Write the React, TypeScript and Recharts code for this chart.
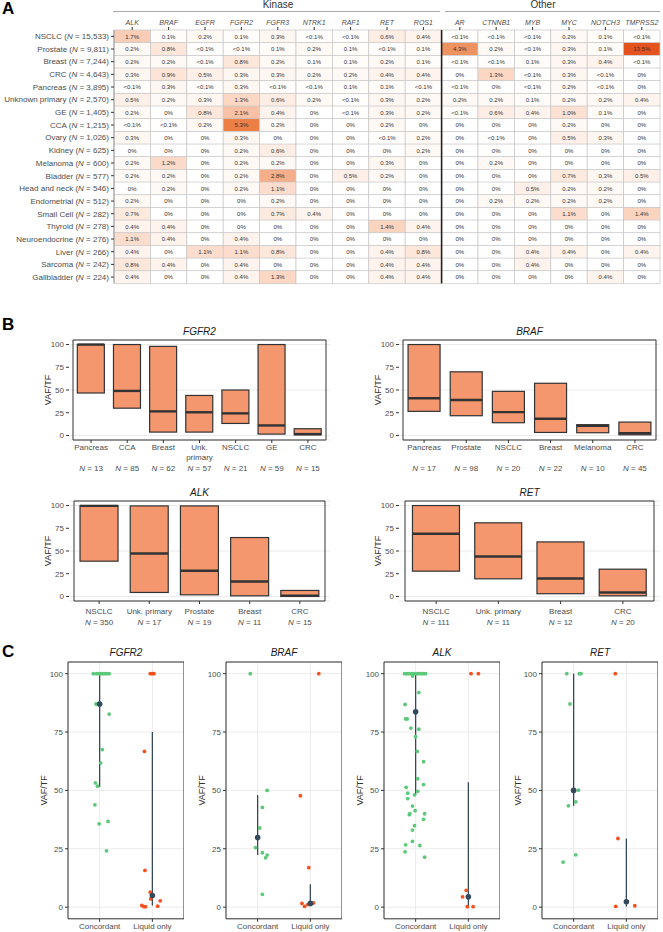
import React from "react";
import {
  Bar,
  BarChart,
  CartesianGrid,
  ErrorBar,
  Label,
  ReferenceArea,
  ReferenceLine,
  Scatter,
  ScatterChart,
  XAxis,
  YAxis,
} from "recharts";

const FONT = "'Liberation Sans', Arial, sans-serif";
const INK = "#333333";
const AXIS_TEXT = "#4D4D4D";

// ---------- A: fusion frequency table ----------
const genes = ["ALK", "BRAF", "EGFR", "FGFR2", "FGFR3", "NTRK1", "RAF1", "RET", "ROS1", "AR", "CTNNB1", "MYB", "MYC", "NOTCH3", "TMPRSS2"];
const cancers = ["NSCLC", "Prostate", "Breast", "CRC", "Pancreas", "Unknown primary", "GE", "CCA", "Ovary", "Kidney", "Melanoma", "Bladder", "Head and neck", "Endometrial", "Small Cell", "Thyroid", "Neuroendocrine", "Liver", "Sarcoma", "Gallbladder"];
const cancerN = ["15,533", "9,811", "7,244", "4,643", "3,895", "2,570", "1,405", "1,215", "1,026", "625", "600", "577", "546", "512", "282", "278", "276", "266", "242", "224"];
const freq = [
  ["1.7", "0.1", "0.2", "0.1", "0.3", "<0.1", "<0.1", "0.6", "0.4", "<0.1", "<0.1", "<0.1", "0.2", "0.1", "<0.1"],
  ["0.2", "0.8", "<0.1", "<0.1", "0.1", "0.2", "0.1", "<0.1", "0.1", "4.3", "0.2", "<0.1", "0.3", "0.1", "13.5"],
  ["0.2", "0.2", "<0.1", "0.8", "0.2", "0.1", "0.1", "0.2", "0.1", "<0.1", "<0.1", "0.1", "0.3", "0.4", "<0.1"],
  ["0.3", "0.9", "0.5", "0.3", "0.3", "0.2", "0.2", "0.4", "0.4", "0", "1.3", "<0.1", "0.3", "<0.1", "0"],
  ["<0.1", "0.3", "<0.1", "0.3", "<0.1", "<0.1", "0.1", "0.1", "<0.1", "<0.1", "0", "<0.1", "0.2", "<0.1", "0"],
  ["0.5", "0.2", "0.3", "1.3", "0.6", "0.2", "<0.1", "0.3", "0.2", "0.2", "0.2", "0.1", "0.2", "0.2", "0.4"],
  ["0.2", "0", "0.8", "2.1", "0.4", "0", "<0.1", "0.3", "0.2", "<0.1", "0.6", "0.4", "1.0", "0.1", "0"],
  ["<0.1", "<0.1", "0.2", "5.3", "0.2", "0", "0", "0.2", "0", "0", "0", "0", "0.2", "0", "0"],
  ["0.3", "0", "0", "0.3", "0", "0", "0", "<0.1", "0.2", "0", "<0.1", "0", "0.5", "0.3", "0"],
  ["0", "0", "0", "0.2", "0.6", "0", "0", "0", "0.2", "0", "0", "0", "0", "0", "0"],
  ["0.2", "1.2", "0", "0.2", "0.2", "0", "0", "0.3", "0", "0", "0.2", "0", "0", "0", "0"],
  ["0.2", "0.2", "0", "0.2", "2.8", "0", "0.5", "0.2", "0", "0", "0", "0", "0.7", "0.3", "0.5"],
  ["0", "0.2", "0", "0.2", "1.1", "0", "0", "0", "0", "0", "0", "0.5", "0.2", "0.2", "0"],
  ["0.2", "0", "0", "0", "0.2", "0", "0", "0", "0", "0", "0.2", "0.2", "0.2", "0.2", "0"],
  ["0.7", "0", "0", "0", "0.7", "0.4", "0", "0", "0", "0", "0", "0", "1.1", "0", "1.4"],
  ["0.4", "0.4", "0", "0", "0", "0", "0", "1.4", "0.4", "0", "0", "0", "0", "0", "0"],
  ["1.1", "0.4", "0", "0.4", "0", "0", "0", "0", "0", "0", "0", "0", "0", "0", "0"],
  ["0.4", "0", "1.1", "1.1", "0.8", "0", "0", "0.4", "0.8", "0", "0", "0.4", "0.4", "0", "0.4"],
  ["0.8", "0.4", "0", "0.4", "0", "0", "0", "0.4", "0.4", "0", "0", "0.4", "0", "0", "0"],
  ["0.4", "0", "0", "0.4", "1.3", "0", "0", "0.4", "0.4", "0", "0", "0", "0", "0.4", "0"],
];

// ---------- B: VAF/TF ranges by tumour type ----------
const fgfr2Cats = ["Pancreas", "CCA", "Breast", "Unk.\nprimary", "NSCLC", "GE", "CRC"];
const fgfr2N = [13, 85, 62, 57, 21, 59, 15];
const fgfr2Low = [46.7, 30, 3.7, 3.7, 13.2, 1.5, 0.7];
const fgfr2High = [100, 100, 98, 44, 50, 100, 7.4];
const fgfr2Med = [100, 49, 26.5, 25.5, 24.3, 11, 1.5];

const brafCats = ["Pancreas", "Prostate", "NSCLC", "Breast", "Melanoma", "CRC"];
const brafN = [17, 98, 20, 22, 10, 45];
const brafLow = [26.5, 21.7, 14, 3.3, 3, 0.7];
const brafHigh = [100, 70, 48.5, 57.4, 11.8, 14.7];
const brafMed = [41, 39, 25.7, 18.4, 10.7, 2.6];

const alkCats = ["NSCLC", "Unk. primary", "Prostate", "Breast", "CRC"];
const alkN = [350, 17, 19, 11, 15];
const alkLow = [38.8, 4.4, 1.8, 0.7, 0];
const alkHigh = [100, 99.6, 99.6, 64.8, 6.6];
const alkMed = [99.6, 47.3, 28.2, 16.5, 0.7];

const retCats = ["NSCLC", "Unk. primary", "Breast", "CRC"];
const retN = [111, 11, 12, 20];
const retLow = [27.8, 19.4, 3, 0.7];
const retHigh = [100, 81, 60, 30];
const retMed = [69, 44, 19.8, 4.4];

// ---------- C: concordant vs liquid only (x = jitter offset from group centre) ----------
const fgfr2ConcX = [-0.12, -0.06, -0.02, 0.02, 0.06, 0.1, 0.14, 0.18, -0.07, -0.03, 0.18, 0.05, 0.02, -0.08, -0.04, -0.09, -0.01, 0.16, 0.13];
const fgfr2ConcY = [100, 100, 100, 100, 100, 100, 100, 100, 87, 87, 82.7, 67.5, 61.7, 53.2, 51.8, 43.8, 35.7, 36.7, 24.1];
const fgfr2LiqX = [-0.04, 0, 0.03, -0.15, -0.14, -0.04, -0.03, 0.15, -0.2, -0.16, -0.13, 0.1];
const fgfr2LiqY = [100, 100, 100, 66.7, 15.7, 6.4, 3.5, 2.7, 0.7, 0.2, 0.2, 0.4];
const fgfr2DotMed = [87, 5];
const fgfr2DotLo = [51.5, 0.7];
const fgfr2DotHi = [100, 75];

const brafConcX = [-0.14, 0.18, 0.09, 0.04, -0.04, 0.09, 0.18, 0.15, 0.09];
const brafConcY = [100, 50, 42.7, 33.9, 25.5, 23.3, 22.3, 21.1, 5.5];
const brafLiqX = [0.16, -0.19, -0.03, -0.16, -0.11, -0.05, 0.03, 0.06];
const brafLiqY = [100, 47.7, 16.9, 1.6, 0.3, 1.1, 1.6, 1.8];
const brafDotMed = [29.8, 1.6];
const brafDotLo = [22.3, 0.5];
const brafDotHi = [48, 9.8];

const alkConcX = [-0.21, -0.17, -0.13, -0.08, -0.04, -0.01, 0.03, 0.07, 0.11, 0.15, 0.19, -0.06, 0.06, -0.2, -0.19, -0.16, -0.09, 0.06, 0, 0.03, 0.15, 0.04, -0.18, 0.15, -0.15, 0.04, -0.02, -0.15, -0.06, -0.12, -0.11, -0.01, 0.17, 0.15, -0.02, -0.06, -0.06, -0.19, 0.08, -0.2, 0.17];
const alkConcY = [100, 100, 100, 100, 100, 100, 100, 100, 100, 100, 100, 99, 91.9, 86.8, 80.6, 80.6, 76.7, 76.2, 73, 66.7, 62.3, 55, 51.3, 52.5, 48.8, 49.6, 48.1, 46.5, 43.3, 39.6, 40, 41.3, 40, 37.6, 34.9, 33, 28.2, 26.7, 26.4, 23.7, 21.4];
const alkLiqX = [0.05, 0.19, -0.04, -0.11, -0.02, 0.09];
const alkLiqY = [100, 100, 7.2, 4.4, 0.2, 0.2];
const alkDotMed = [83.7, 4.4];
const alkDotLo = [48, 0];
const alkDotHi = [100, 53.5];

const retConcX = [-0.13, 0.11, 0.14, -0.07, 0.09, 0.04, -0.1, 0.04, -0.2];
const retConcY = [100, 100, 100, 87, 50.1, 45.1, 43.4, 22.4, 19.3];
const retLiqX = [-0.21, -0.16, -0.2, 0.16];
const retLiqY = [100, 29.4, 0.3, 0.6];
const retDotMed = [50, 2.3];
const retDotLo = [43.4, 0.3];
const retDotHi = [100, 29.4];

// white -> orange-red ramp used for the table cells
function heatColor(f: string) {
  const v = f.startsWith("<") ? 0.05 : parseFloat(f);
  const stops: [number, number[]][] = [
    [0, [255, 255, 255]],
    [0.5, [254, 240, 232]],
    [1.3, [251, 215, 196]],
    [2.8, [245, 174, 138]],
    [5.3, [235, 127, 69]],
    [13.5, [228, 82, 30]],
  ];
  for (let i = 1; i < stops.length; i++) {
    if (v <= stops[i][0]) {
      const [a, ca] = stops[i - 1];
      const [b, cb] = stops[i];
      const t = (v - a) / (b - a);
      return `rgb(${ca.map((c, k) => Math.round(c + (cb[k] - c) * t)).join(",")})`;
    }
  }
  return "rgb(228,82,30)";
}

const heatRows = cancers.map((c, i) => {
  const row: any = { cancer: c, n: cancerN[i], f: freq[i] };
  genes.forEach((g) => (row[g] = 1));
  return row;
});

const heatCell = (gi: number) => (p: any) => {
  const f = p.payload.f[gi];
  return (
    <g>
      <rect x={p.x} y={p.y} width={p.width} height={p.height} fill={heatColor(f)} stroke="#c6c6c6" strokeWidth={0.7} />
      <text x={p.x + p.width / 2} y={p.y + p.height / 2} dy="0.35em" textAnchor="middle" fontSize={6} fill={INK}>
        {f}%
      </text>
    </g>
  );
};

function RowTick(p: any) {
  const i = cancers.indexOf(p.payload.value);
  return (
    <text x={p.x} y={p.y} dy="0.35em" textAnchor="end" fontSize={8} fill={AXIS_TEXT}>
      {p.payload.value} (<tspan fontStyle="italic">N</tspan> = {cancerN[i]})
    </text>
  );
}

function FusionTable() {
  return (
    <div style={{ position: "absolute", left: 0, top: 0 }}>
      <BarChart width={663} height={290} layout="vertical" data={heatRows} barCategoryGap={0} margin={{ top: 0, right: 3, bottom: 6.6, left: 0 }}>
        <XAxis
          type="number"
          orientation="top"
          domain={[0, 15]}
          ticks={genes.map((_, i) => i + 0.5)}
          interval={0}
          height={30}
          tickSize={3}
          axisLine={false}
          tickLine={{ stroke: INK }}
          tick={(p: any) => (
            <text x={p.x} y={p.y} textAnchor="middle" fontSize={7} fontStyle="italic" fill={AXIS_TEXT}>
              {genes[Math.floor(p.payload.value)]}
            </text>
          )}
        />
        <YAxis type="category" dataKey="cancer" width={114} tickSize={3} interval={0} axisLine={{ stroke: "#999" }} tickLine={{ stroke: INK }} tick={<RowTick />} />
        {genes.map((g, gi) => (
          <Bar key={g} dataKey={g} stackId="t" isAnimationActive={false} shape={heatCell(gi)} />
        ))}
        <ReferenceLine x={9} stroke="#222" strokeWidth={1.6} />
      </BarChart>
    </div>
  );
}

// ---------- shared bits ----------
const yLabel = (dist: number) => (p: any) => {
  const vb = p.viewBox;
  const x = vb.x + vb.width - dist;
  const y = vb.y + vb.height / 2;
  return (
    <text transform={`translate(${x},${y}) rotate(-90)`} textAnchor="middle" dy="0.35em" fontSize={9} fill={INK}>
      VAF/TF
    </text>
  );
};

function Title({ text, cx, cy }: { text: string; cx: number; cy: number }) {
  return (
    <div style={{ position: "absolute", left: cx - 60, top: cy - 6, width: 120, textAlign: "center", fontSize: 10, lineHeight: "12px", fontStyle: "italic", color: "#1a1a1a" }}>
      {text}
    </div>
  );
}

// ---------- B ----------
const RangeBox = (p: any) => {
  const { x, y, width, height, payload } = p;
  const top = Math.min(y, y + height);
  const h = Math.abs(height);
  const span = payload.high - payload.low;
  const my = top + (span > 0 ? (h * (payload.high - payload.med)) / span : 0);
  return (
    <g>
      <rect x={x} y={top} width={width} height={h} fill="#F4966E" stroke={INK} strokeWidth={1.2} />
      <line x1={x} x2={x + width} y1={my} y2={my} stroke={INK} strokeWidth={2.4} />
    </g>
  );
};

function RangePanel(props: {
  title: string;
  cats: string[];
  n: number[];
  low: number[];
  high: number[];
  med: number[];
  left: number;
  top: number;
  nBelow: boolean;
}) {
  const { title, cats, n, low, high, med, left, top, nBelow } = props;
  const rows = cats.map((c, i) => ({ cat: c, n: n[i], low: low[i], high: high[i], med: med[i] }));
  const width = 331;
  const plotW = width - 69 - 1;
  const pad = Math.round((0.1 * plotW) / (cats.length + 0.2));
  const tick = (p: any) => {
    const r = rows.find((d) => d.cat === p.payload.value)!;
    const lines = r.cat.split("\n");
    return (
      <g>
        {lines.map((l, i) => (
          <text key={i} x={p.x} y={p.y + (nBelow ? 5 : 8) + i * 10} textAnchor="middle" fontSize={8} fill={AXIS_TEXT}>
            {l}
          </text>
        ))}
        <text x={p.x} y={p.y + (nBelow ? 26 : 18.5)} textAnchor="middle" fontSize={8} fill={AXIS_TEXT}>
          <tspan fontStyle="italic">N</tspan> = {r.n}
        </text>
      </g>
    );
  };
  return (
    <div style={{ position: "absolute", left, top }}>
      <BarChart width={width} height={160} data={rows} barCategoryGap="12%" margin={{ top: 15, right: 1, bottom: 5, left: 0 }}>
        <CartesianGrid vertical={false} stroke="#EBEBEB" />
        <XAxis dataKey="cat" interval={0} height={40} tickSize={3} padding={{ left: pad, right: pad }} axisLine={false} tickLine={{ stroke: INK }} tick={tick} />
        <YAxis type="number" domain={[-5, 105]} ticks={[0, 25, 50, 75, 100]} width={69} tickSize={3} axisLine={false} tickLine={{ stroke: INK }} tick={{ fontSize: 8, fill: AXIS_TEXT }}>
          <Label content={yLabel(21)} />
        </YAxis>
        <Bar dataKey={(d: any) => [d.low, d.high]} isAnimationActive={false} shape={RangeBox} />
        <ReferenceArea y1={-5} y2={105} fill="none" stroke={INK} strokeWidth={1} />
      </BarChart>
      <Title text={title} cx={69 + plotW / 2} cy={7} />
    </div>
  );
}

// ---------- C ----------
function DotPanel(props: {
  title: string;
  left: number;
  concX: number[];
  concY: number[];
  liqX: number[];
  liqY: number[];
  med: number[];
  lo: number[];
  hi: number[];
}) {
  const { title, left, concX, concY, liqX, liqY, med, lo, hi } = props;
  const conc = concX.map((x, i) => ({ x: 1 + x, y: concY[i] }));
  const liq = liqX.map((x, i) => ({ x: 2 + x, y: liqY[i] }));
  const meds = med.map((m, i) => ({ x: i + 1, y: m, err: [m - lo[i], hi[i] - m] }));
  return (
    <div style={{ position: "absolute", left, top: 646.5 }}>
      <ScatterChart width={184} height={285.5} margin={{ top: 15, right: 0, bottom: 0, left: 0 }}>
        <CartesianGrid stroke="#EBEBEB" />
        <XAxis
          type="number"
          dataKey="x"
          domain={[0.4, 2.6]}
          ticks={[1, 2]}
          interval={0}
          height={13.7}
          tickSize={3}
          axisLine={false}
          tickLine={{ stroke: INK }}
          tick={{ fontSize: 8, fill: AXIS_TEXT }}
          tickFormatter={(v: number) => (v === 1 ? "Concordant" : "Liquid only")}
        />
        <YAxis type="number" dataKey="y" domain={[-5, 105]} ticks={[0, 25, 50, 75, 100]} width={68} tickSize={3} axisLine={false} tickLine={{ stroke: INK }} tick={{ fontSize: 8, fill: AXIS_TEXT }}>
          <Label content={yLabel(24)} />
        </YAxis>
        <Scatter data={conc} isAnimationActive={false} shape={(p: any) => <circle cx={p.cx} cy={p.cy} r={1.9} fill="#5CC97A" />} />
        <Scatter data={liq} isAnimationActive={false} shape={(p: any) => <circle cx={p.cx} cy={p.cy} r={1.9} fill="#F4511E" />} />
        <Scatter data={meds} isAnimationActive={false} shape={(p: any) => <circle cx={p.cx} cy={p.cy} r={2.8} fill="#34495E" />}>
          <ErrorBar dataKey="err" direction="y" width={0} stroke="#34495E" strokeWidth={1.3} />
        </Scatter>
        <ReferenceArea x1={0.4} x2={2.6} y1={-5} y2={105} fill="none" stroke={INK} strokeWidth={1} />
      </ScatterChart>
      <Title text={title} cx={68 + 58} cy={6.5} />
    </div>
  );
}

function Letter({ text, left, top }: { text: string; left: number; top: number }) {
  return <div style={{ position: "absolute", left, top, fontSize: 17, fontWeight: "bold", lineHeight: "17px", color: "#000" }}>{text}</div>;
}

export default function App() {
  return (
    <div style={{ position: "absolute", left: 0, top: 0, width: 663, height: 932, background: "#fff", fontFamily: FONT, color: INK, overflow: "hidden" }}>
      <FusionTable />
      <Letter text="A" left={2} top={0} />
      <div style={{ position: "absolute", left: 228, top: -1, width: 100, textAlign: "center", fontSize: 10, lineHeight: "12px" }}>Kinase</div>
      <div style={{ position: "absolute", left: 113, top: 11, width: 327, height: 1, background: "#aaa" }} />
      <div style={{ position: "absolute", left: 493, top: -1, width: 100, textAlign: "center", fontSize: 10, lineHeight: "12px" }}>Other</div>
      <div style={{ position: "absolute", left: 445, top: 11, width: 215, height: 1, background: "#aaa" }} />

      <Letter text="B" left={2} top={316} />
      <RangePanel title="FGFR2" cats={fgfr2Cats} n={fgfr2N} low={fgfr2Low} high={fgfr2High} med={fgfr2Med} left={0} top={325} nBelow />
      <RangePanel title="BRAF" cats={brafCats} n={brafN} low={brafLow} high={brafHigh} med={brafMed} left={330} top={325} nBelow />
      <RangePanel title="ALK" cats={alkCats} n={alkN} low={alkLow} high={alkHigh} med={alkMed} left={0} top={486} nBelow={false} />
      <RangePanel title="RET" cats={retCats} n={retN} low={retLow} high={retHigh} med={retMed} left={330} top={486} nBelow={false} />

      <Letter text="C" left={2} top={643} />
      <DotPanel title="FGFR2" left={0} concX={fgfr2ConcX} concY={fgfr2ConcY} liqX={fgfr2LiqX} liqY={fgfr2LiqY} med={fgfr2DotMed} lo={fgfr2DotLo} hi={fgfr2DotHi} />
      <DotPanel title="BRAF" left={158} concX={brafConcX} concY={brafConcY} liqX={brafLiqX} liqY={brafLiqY} med={brafDotMed} lo={brafDotLo} hi={brafDotHi} />
      <DotPanel title="ALK" left={316} concX={alkConcX} concY={alkConcY} liqX={alkLiqX} liqY={alkLiqY} med={alkDotMed} lo={alkDotLo} hi={alkDotHi} />
      <DotPanel title="RET" left={474} concX={retConcX} concY={retConcY} liqX={retLiqX} liqY={retLiqY} med={retDotMed} lo={retDotLo} hi={retDotHi} />
    </div>
  );
}
